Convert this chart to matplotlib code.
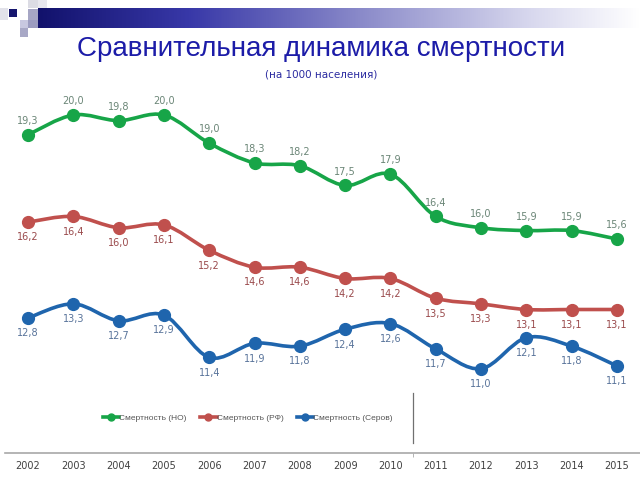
import numpy as np
import matplotlib
matplotlib.use("Agg")
import matplotlib.pyplot as plt
from matplotlib.path import Path
from matplotlib.patches import PathPatch, Rectangle
from matplotlib.colors import LinearSegmentedColormap
from matplotlib.lines import Line2D

years = list(range(2002, 2016))
no_vals = [19.3, 20.0, 19.8, 20.0, 19.0, 18.3, 18.2, 17.5, 17.9, 16.4, 16.0, 15.9, 15.9, 15.6]
rf_vals = [16.2, 16.4, 16.0, 16.1, 15.2, 14.6, 14.6, 14.2, 14.2, 13.5, 13.3, 13.1, 13.1, 13.1]
serov_vals = [12.8, 13.3, 12.7, 12.9, 11.4, 11.9, 11.8, 12.4, 12.6, 11.7, 11.0, 12.1, 11.8, 11.1]
series_names = ["Смертность (НО)", "Смертность (РФ)", "Смертность (Серов)"]

line_colors = ["#17a548", "#c0504d", "#1f65ad"]
label_colors = ["#6b8677", "#9a4a4c", "#58739a"]

plt.rcParams['font.family'] = ['DejaVu Sans']

fig = plt.figure(figsize=(6.4, 4.8), dpi=100)

# header decoration, pixel coordinates
bg = fig.add_axes([0, 0, 1, 1], zorder=0)
bg.set_xlim(0, 640)
bg.set_ylim(480, 0)
bg.axis("off")
cmap = LinearSegmentedColormap.from_list(
    "hdr", [(0, "#12126c"), (0.25, "#3838a8"), (0.55, "#8e8ecb"),
            (0.82, "#d8d8ee"), (1.0, "#ffffff")])
grad = np.linspace(0, 1, 256).reshape(1, -1)
bg.imshow(grad, cmap=cmap, extent=[38, 640, 28, 8], aspect="auto")
for (x, y, w, h, c) in [(0, 8, 8, 12, "#e2e2ea"), (9, 9, 8, 8, "#16166e"),
                        (28, 0, 10, 8, "#dcdce4"), (38, 0, 9, 8, "#e8e8ee"),
                        (28, 9, 10, 11, "#a6a6c4"), (20, 20, 8, 8, "#c8c8e0"),
                        (28, 20, 10, 8, "#9c9cc0"), (20, 28, 8, 9, "#a8a8c6")]:
    bg.add_patch(Rectangle((x, y), w, h, color=c, lw=0))
bg.set_xlim(0, 640)
bg.set_ylim(480, 0)

fig.text(0.502, 0.898, "Сравнительная динамика смертности", ha="center",
         va="center", fontsize=20, color="#1c1ca8", family="Liberation Sans")
fig.text(0.502, 0.845, "(на 1000 населения)", ha="center", va="center",
         fontsize=7.5, color="#2a2aa0")

# chart area: axes from pixel y=90 to y=453
ax = fig.add_axes([0.0, (480 - 453) / 480, 1.0, (453 - 90) / 480], zorder=1)
ax.patch.set_alpha(0)
ax.set_xlim(2001.38, 2015.51)
ax.set_ylim(8.01, 20.886)


def smooth_path(xs, ys):
    pts = np.column_stack([xs, ys]).astype(float)
    ext = np.vstack([pts[0], pts, pts[-1]])
    verts = [pts[0]]
    codes = [Path.MOVETO]
    for i in range(len(pts) - 1):
        p0, p1, p2, p3 = ext[i], ext[i + 1], ext[i + 2], ext[i + 3]
        verts += [p1 + (p2 - p0) / 6, p2 - (p3 - p1) / 6, p2]
        codes += [Path.CURVE4] * 3
    return Path(verts, codes)


for vals, col, lcol, above in zip([no_vals, rf_vals, serov_vals], line_colors,
                                  label_colors, [True, False, False]):
    ax.add_patch(PathPatch(smooth_path(years, vals), fill=False, ec=col,
                           lw=2.6, capstyle="round", joinstyle="round"))
    ax.plot(years, vals, "o", color=col, ms=8.5, mec=col, zorder=3)
    for x, v in zip(years, vals):
        ax.annotate(f"{v:.1f}".replace(".", ","), (x, v),
                    xytext=(0, 10 if above else -11), textcoords="offset points",
                    ha="center", va="center", fontsize=7, color=lcol)

for s in ["top", "right", "left"]:
    ax.spines[s].set_visible(False)
ax.spines["bottom"].set_color("#a8a8a8")
ax.spines["bottom"].set_linewidth(1.2)
ax.spines["bottom"].set_bounds(2001.5, 2015.51)
ax.set_yticks([])
ax.set_xticks(years)
ax.set_xticklabels([str(y) for y in years])
ax.tick_params(axis="x", length=0, labelsize=7, colors="#404040", pad=6)
ax.set_xticks([2010.5], minor=True)
ax.tick_params(axis="x", which="minor", length=3, color="#a8a8a8")
ax.plot([2010.5, 2010.5], [8.37, 10.14], color="#707070", lw=0.9)

handles = [Line2D([], [], color=c, lw=2.6, marker="o", ms=5) for c in line_colors]
ax.legend(handles, series_names, loc="center", bbox_to_anchor=(0.387, 0.097),
          ncol=3, frameon=False, handlelength=2.0, handletextpad=0.0,
          columnspacing=1.6, labelcolor="#555555",
          prop={"family": "Liberation Sans", "size": 6})

fig.savefig("out.png", dpi=100)
